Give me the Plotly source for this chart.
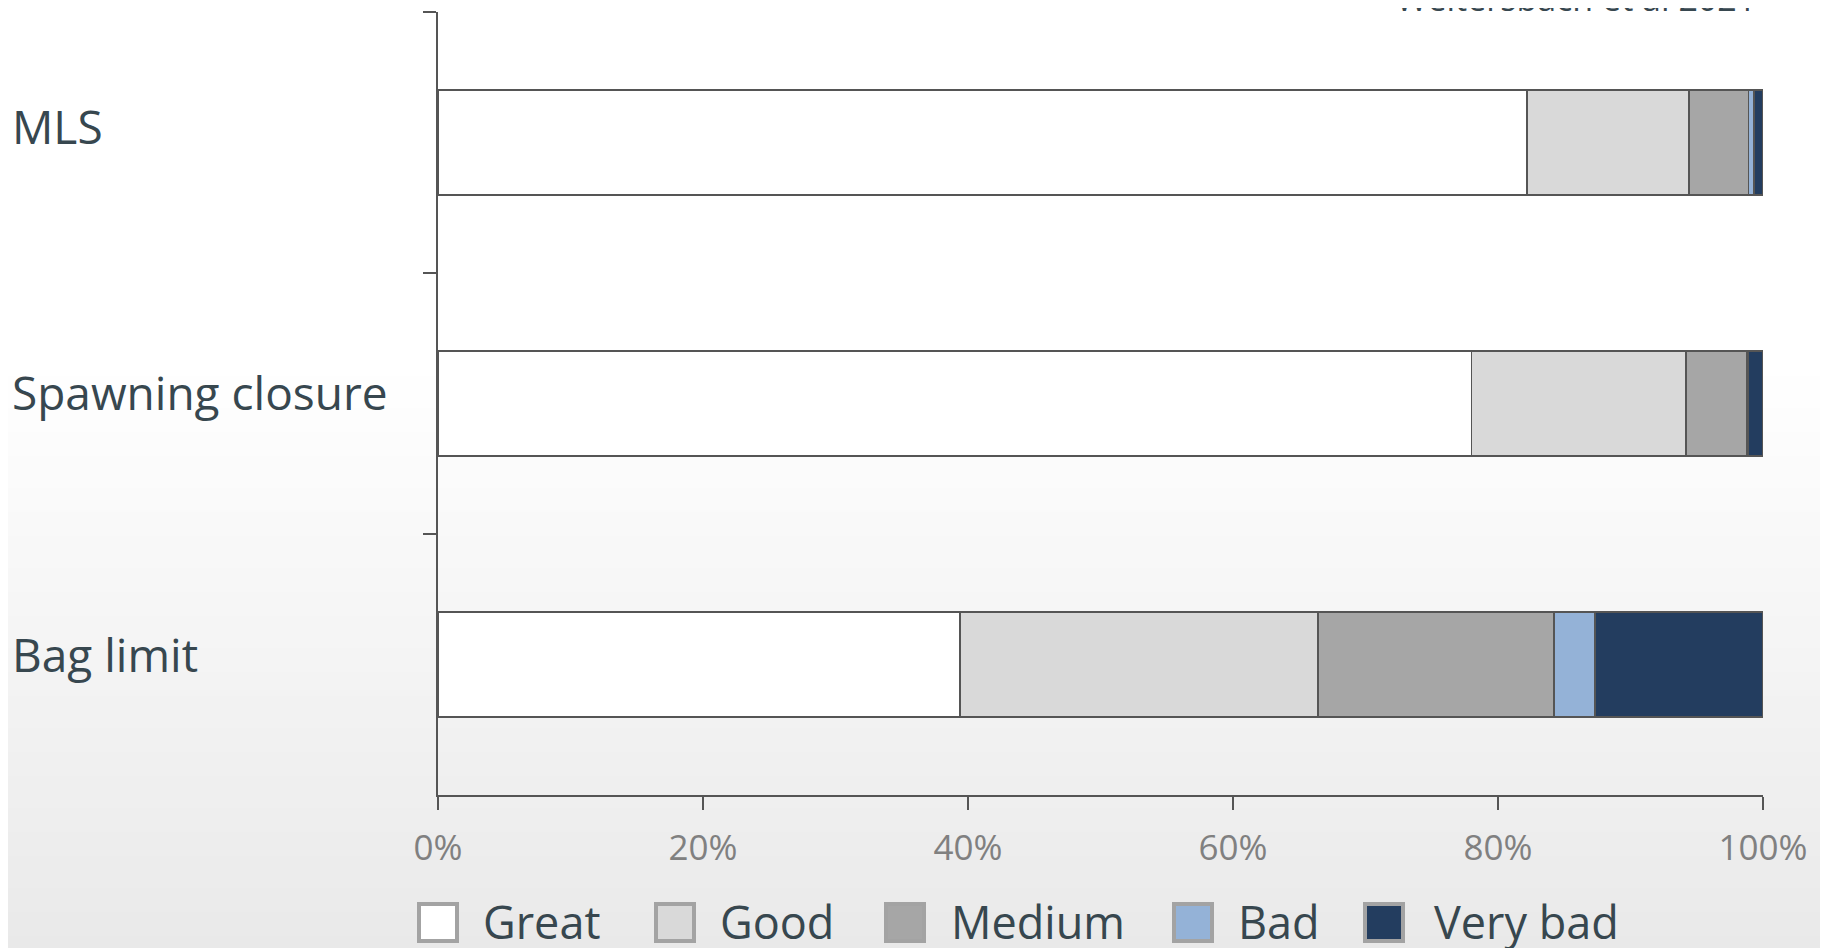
import plotly.graph_objects as go

# ---- data ----
categories = ["MLS", "Spawning closure", "Bag limit"]
series_names = ["Great", "Good", "Medium", "Bad", "Very bad"]
great = [82.2, 78.0, 39.4]
good = [12.2, 16.2, 27.0]
medium = [4.5, 4.6, 17.8]
bad = [0.4, 0.1, 3.1]
very_bad = [0.7, 1.1, 12.7]
x_tickvals = [0, 20, 40, 60, 80, 100]
x_ticktext = ["0%", "20%", "40%", "60%", "80%", "100%"]
source_note = "Weltersbach et al 2021"

# ---- style ----
colors = ["#ffffff", "#d9d9d9", "#a6a6a6", "#94b2d7", "#233d5f"]
label_shift = [17, 12, 11]
PAGE_W, PAGE_H = 1828, 948
OFF = 8  # default page body margin
W, H = PAGE_W - OFF, PAGE_H - OFF
# plot area in page pixels
PX0, PX1, PY0, PY1 = 438, 1763, 12, 795
L, R, T, B = PX0 - OFF, PAGE_W - PX1, PY0 - OFF, PAGE_H - PY1
PW, PH = PX1 - PX0, PY1 - PY0
TEXT = "#37474f"
FONT = "Open Sans"


def px2x(px):
    return (px - PX0) / PW


def py2y(py):
    return (PY1 - py) / PH


fig = go.Figure()
all_series = [great, good, medium, bad, very_bad]
for name, vals, col in zip(series_names, all_series, colors):
    fig.add_trace(go.Bar(
        y=categories, x=vals, name=name, orientation="h",
        width=0.4,
        marker=dict(color=col, line=dict(color="#555555", width=1.8)),
        showlegend=False,
    ))

shapes = []
# background gradient (white top -> light grey bottom)
y_start, step = 360, 8
for py in range(y_start, PAGE_H, step):
    t = (py - y_start) / (PAGE_H - y_start)
    v = int(round(255 - 22 * t))
    shapes.append(dict(type="rect", xref="paper", yref="paper", layer="below",
                       x0=px2x(-20), x1=px2x(PAGE_W + 20), y0=py2y(py + step + 1), y1=py2y(py),
                       fillcolor=f"rgb({v},{v},{v})", line=dict(width=0)))

annotations = []
# category labels
for c, ys in zip(categories, label_shift):
    annotations.append(dict(text=c, xref="paper", x=px2x(10), xanchor="left",
                            yref="y", y=c, yanchor="middle", yshift=ys,
                            showarrow=False, font=dict(family=FONT, size=46, color=TEXT)))

# manual legend
leg_sq_x = [417, 654, 884, 1172, 1363]
leg_txt_x = [481, 718, 949, 1236, 1432]
sq_top, sq_bot = 902, 943
for name, col, sx, tx in zip(series_names, colors, leg_sq_x, leg_txt_x):
    shapes.append(dict(type="rect", xref="paper", yref="paper",
                       x0=px2x(sx + 2), x1=px2x(sx + 40), y0=py2y(sq_bot - 2), y1=py2y(sq_top + 2),
                       fillcolor=col, line=dict(color="#a3a3a3", width=4)))
    annotations.append(dict(text=name, xref="paper", x=px2x(tx), xanchor="left",
                            yref="paper", y=py2y(921), yanchor="middle",
                            showarrow=False, font=dict(family=FONT, size=45, color=TEXT)))

# source note (cut by top edge)
annotations.append(dict(text=source_note, xref="paper", x=px2x(1758), xanchor="right",
                        yref="paper", y=py2y(-2), yanchor="middle",
                        showarrow=False, font=dict(family=FONT, size=34, color=TEXT)))

fig.update_layout(
    width=W, height=H,
    margin=dict(l=L, r=R, t=T, b=B, pad=0),
    barmode="stack",
    paper_bgcolor="white",
    plot_bgcolor="rgba(0,0,0,0)",
    shapes=shapes,
    annotations=annotations,
    xaxis=dict(range=[0, 100], tickvals=x_tickvals, ticktext=x_ticktext,
               showgrid=False, zeroline=False, showline=True, linecolor="#555555", linewidth=2,
               ticks="outside", ticklen=13, tickwidth=2, tickcolor="#555555",
               ticklabelstandoff=8,
               tickfont=dict(family=FONT, size=35, color="#808080")),
    yaxis=dict(type="category", categoryorder="array", categoryarray=categories,
               range=[2.5, -0.5], showgrid=False, zeroline=False,
               showline=True, linecolor="#555555", linewidth=2,
               ticks="outside", tickson="boundaries", ticklen=13, tickwidth=2, tickcolor="#555555",
               showticklabels=False),
)

fig.write_html("out.html")
